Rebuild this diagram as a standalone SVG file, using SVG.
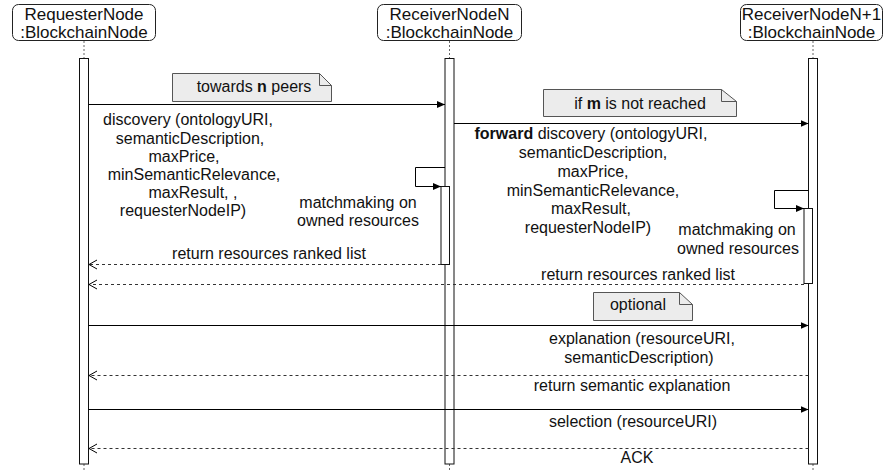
<svg xmlns="http://www.w3.org/2000/svg" width="886" height="470" viewBox="0 0 886 470">
<style>
text{font-family:"Liberation Sans",Arial,Helvetica,sans-serif;fill:#111;}
.hdr{font-size:17px;text-anchor:middle;}
.msg{font-size:16px;text-anchor:middle;}
.box{fill:#fff;stroke:#222;stroke-width:1;}
.bar{fill:#fff;stroke:#111;stroke-width:1;}
.life{stroke:#666;stroke-width:1;stroke-dasharray:2 2;fill:none;}
.note{fill:#ececec;stroke:#555;stroke-width:1;}
.call{stroke:#000;stroke-width:1;fill:none;marker-end:url(#fill);}
.ret{stroke:#333;stroke-width:1;fill:none;stroke-dasharray:3 3;marker-end:url(#open);}
</style>
<defs>
<marker id="fill" markerUnits="userSpaceOnUse" markerWidth="10" markerHeight="10" refX="8" refY="4" orient="auto">
<path d="M0,0.5 L8,4 L0,7.5 z" fill="#000"/>
</marker>
<marker id="open" markerUnits="userSpaceOnUse" markerWidth="12" markerHeight="12" refX="9" refY="5" orient="auto">
<path d="M1,0.5 L9,5 L1,9.5" fill="none" stroke="#000" stroke-width="1"/>
</marker>
</defs>
<rect width="886" height="470" fill="#fff"/>

<g id="requester">
<rect class="box" x="12.5" y="4.5" width="143" height="36" rx="6"/>
<text class="hdr" x="84" y="20">RequesterNode</text>
<text class="hdr" x="84" y="37.5">:BlockchainNode</text>
<line class="life" x1="84" y1="41" x2="84" y2="58"/>
<line class="life" x1="84" y1="464" x2="84" y2="470"/>
<rect class="bar" x="79.5" y="58.5" width="9" height="405.5"/>
</g>

<g id="receiverN">
<rect class="box" x="377.5" y="4.5" width="144" height="36" rx="6"/>
<text class="hdr" x="449.5" y="20">ReceiverNodeN</text>
<text class="hdr" x="449.5" y="37.5">:BlockchainNode</text>
<line class="life" x1="449.5" y1="41" x2="449.5" y2="58"/>
<line class="life" x1="449.5" y1="464" x2="449.5" y2="470"/>
<rect class="bar" x="445" y="58.5" width="9" height="405.5"/>
<rect class="bar" x="441" y="186.5" width="8.5" height="78"/>
</g>

<g id="receiverN1">
<rect class="box" x="740.5" y="4.5" width="142" height="36" rx="6"/>
<text class="hdr" x="811.5" y="20">ReceiverNodeN+1</text>
<text class="hdr" x="811.5" y="37.5">:BlockchainNode</text>
<line class="life" x1="813" y1="41" x2="813" y2="58"/>
<line class="life" x1="813" y1="464" x2="813" y2="470"/>
<rect class="bar" x="808.5" y="58.5" width="9" height="405.5"/>
<rect class="bar" x="804" y="208.5" width="8.5" height="75"/>
</g>

<g id="note-peers">
<path class="note" d="M172.5,73.5 H319.5 L331.5,85.5 V101.5 H172.5 Z"/>
<path d="M319.5,73.5 V85.5 H331.5" fill="none" stroke="#555"/>
<text class="msg" x="254" y="91.5">towards <tspan font-weight="bold">n</tspan> peers</text>
</g>

<g id="note-m">
<path class="note" d="M543.5,89.5 H721.5 L736.5,101.5 V116.5 H543.5 Z"/>
<path d="M721.5,89.5 V101.5 H736.5" fill="none" stroke="#555"/>
<text class="msg" x="640" y="108.5">if <tspan font-weight="bold">m</tspan> is not reached</text>
</g>

<g id="note-optional">
<path class="note" d="M593.5,292.5 H679.5 L692.5,304.5 V320.5 H593.5 Z"/>
<path d="M679.5,292.5 V304.5 H692.5" fill="none" stroke="#555"/>
<text class="msg" x="638" y="310">optional</text>
</g>

<g id="connectors">
<line class="call" x1="88.5" y1="104.5" x2="445" y2="104.5"/>
<line class="call" x1="454" y1="123.5" x2="808.5" y2="123.5"/>
<path class="call" d="M445,167.5 H415.5 V186.5 H441"/>
<line class="ret" x1="441" y1="264.5" x2="89" y2="264.5"/>
<path class="call" d="M808.5,190.5 H774.5 V208.5 H804"/>
<line class="ret" x1="804" y1="284.5" x2="89" y2="284.5"/>
<line class="call" x1="88.5" y1="325.5" x2="808.5" y2="325.5"/>
<line class="ret" x1="808.5" y1="375.5" x2="89" y2="375.5"/>
<line class="call" x1="88.5" y1="409.5" x2="808.5" y2="409.5"/>
<line class="ret" x1="808.5" y1="448.5" x2="89" y2="448.5"/>
</g>

<g id="labels">
<text class="msg" x="188" y="125.3">discovery (ontologyURI,</text>
<text class="msg" x="190" y="143.5">semanticDescription,</text>
<text class="msg" x="184" y="161.5">maxPrice,</text>
<text class="msg" x="194" y="179.6">minSemanticRelevance,</text>
<text class="msg" x="193" y="197.6">maxResult, ,</text>
<text class="msg" x="183" y="215.6">requesterNodeIP)</text>

<text class="msg" x="358" y="207.5">matchmaking on</text>
<text class="msg" x="358" y="226">owned resources</text>
<text class="msg" x="269" y="258.5">return resources ranked list</text>

<text class="msg" x="591" y="139.3"><tspan font-weight="bold">forward</tspan> discovery (ontologyURI,</text>
<text class="msg" x="593" y="158">semanticDescription,</text>
<text class="msg" x="593" y="176.8">maxPrice,</text>
<text class="msg" x="593" y="195.6">minSemanticRelevance,</text>
<text class="msg" x="591" y="214.4">maxResult,</text>
<text class="msg" x="588" y="233.2">requesterNodeIP)</text>

<text class="msg" x="737" y="235">matchmaking on</text>
<text class="msg" x="738" y="253.5">owned resources</text>
<text class="msg" x="638" y="280">return resources ranked list</text>

<text class="msg" x="642" y="344">explanation (resourceURI,</text>
<text class="msg" x="639" y="362.7">semanticDescription)</text>
<text class="msg" x="632" y="391">return semantic explanation</text>
<text class="msg" x="633" y="426.7">selection (resourceURI)</text>
<text class="msg" x="637" y="462.7">ACK</text>
</g>
</svg>
